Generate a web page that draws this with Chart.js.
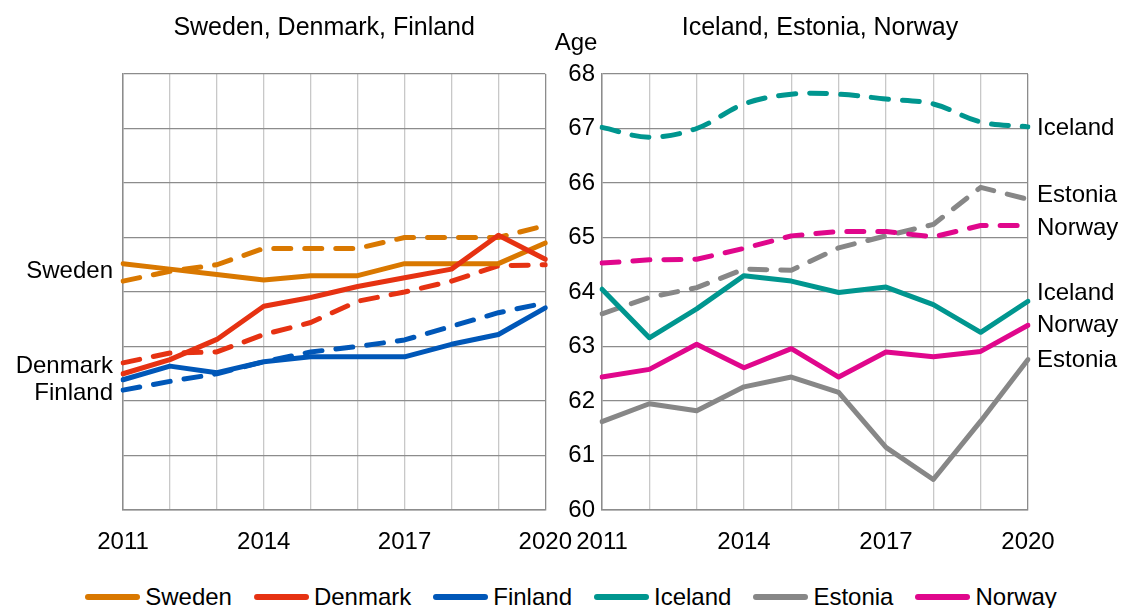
<!DOCTYPE html>
<html>
<head>
<meta charset="utf-8">
<script src="https://cdn.jsdelivr.net/npm/chart.js@4.4.1/dist/chart.umd.min.js"></script>
<style>
  body { margin: 0; background: #fff; }
  #wrap { position: relative; width: 1126px; height: 608px; overflow: hidden; background: #fff; }
  #leftChart { position: absolute; left: 0; top: 0; }
  #rightChart { position: absolute; left: 540px; top: 0; }
  #legend {
    position: absolute; left: 0; top: 585px; width: 1126px; height: 24px;
    display: flex; justify-content: center; gap: 22px; padding-left: 16px; box-sizing: border-box;
    font-family: 'Liberation Sans', Arial, sans-serif; font-size: 24px; line-height: 24px; color: #000;
  }
  .item { display: flex; align-items: center; gap: 5px; }
  .swatch { width: 55px; height: 6px; border-radius: 3px; }
</style>
</head>
<body>
<div id="wrap">
  <canvas id="leftChart" width="590" height="560"></canvas>
  <canvas id="rightChart" width="586" height="560"></canvas>
  <div id="legend"></div>
</div>
<script>
const years = ['2011', '2012', '2013', '2014', '2015', '2016', '2017', '2018', '2019', '2020'];
const shownYears = ['2011', '2014', '2017', '2020'];

const countries = ['Sweden', 'Denmark', 'Finland', 'Iceland', 'Estonia', 'Norway'];
const colors = ['#D97800', '#E63212', '#0057B8', '#00968F', '#878787', '#E0078C'];

// solid lines
const swedenSolid  = [64.52, 64.42, 64.32, 64.22, 64.30, 64.30, 64.52, 64.52, 64.52, 64.90];
const denmarkSolid = [62.50, 62.76, 63.13, 63.74, 63.90, 64.10, 64.26, 64.42, 65.04, 64.60];
const finlandSolid = [62.39, 62.64, 62.52, 62.72, 62.81, 62.81, 62.81, 63.04, 63.22, 63.71];
const icelandSolid = [64.05, 63.16, 63.69, 64.30, 64.20, 63.99, 64.09, 63.77, 63.26, 63.83];
const estoniaSolid = [61.62, 61.95, 61.82, 62.26, 62.44, 62.16, 61.15, 60.56, 61.63, 62.76];
const norwaySolid  = [62.44, 62.58, 63.04, 62.61, 62.96, 62.44, 62.90, 62.81, 62.91, 63.39];

// dashed lines
const swedenDashed  = [64.20, 64.38, 64.50, 64.80, 64.80, 64.80, 65.00, 65.00, 65.00, 65.22];
const denmarkDashed = [62.70, 62.88, 62.90, 63.22, 63.44, 63.83, 64.00, 64.20, 64.48, 64.50];
const finlandDashed = [62.20, 62.36, 62.50, 62.72, 62.90, 63.00, 63.12, 63.37, 63.62, 63.80];
const icelandDashed = [67.02, 66.84, 67.00, 67.45, 67.63, 67.63, 67.54, 67.45, 67.12, 67.03];
const estoniaDashed = [63.60, 63.90, 64.08, 64.42, 64.40, 64.81, 65.03, 65.24, 65.92, 65.70];
const norwayDashed  = [64.53, 64.59, 64.60, 64.80, 65.03, 65.11, 65.11, 65.01, 65.22, 65.22];

// end labels beside the panels
const leftNames = ['Sweden', 'Denmark', 'Finland'];
const leftNameValues = [64.37, 62.64, 62.14];
const rightNames = ['Iceland', 'Estonia', 'Norway', 'Iceland', 'Norway', 'Estonia'];
const rightNameValues = [67.01, 65.78, 65.16, 63.98, 63.38, 62.75];

const yMin = 60, yMax = 68;
const font = "'Liberation Sans', Arial, sans-serif";

function line(data, color, dashed, smooth) {
    return {
        data: data,
        borderColor: color,
        borderWidth: 5,
        borderDash: dashed ? [17, 14] : [],
        borderCapStyle: 'round',
        borderJoinStyle: 'round',
        pointRadius: 0,
        tension: smooth ? 0.35 : 0,
        fill: false
    };
}

const panelText = {
    id: 'panelText',
    afterDraw(chart, args, opts) {
        const { ctx, chartArea, scales } = chart;
        ctx.save();
        ctx.fillStyle = '#000';
        ctx.font = '25px ' + font;
        ctx.textAlign = 'center';
        ctx.textBaseline = 'alphabetic';
        ctx.fillText(opts.title, (chartArea.left + chartArea.right) / 2 + opts.titleShift, 35);
        ctx.font = '24px ' + font;
        ctx.textBaseline = 'middle';
        ctx.textAlign = opts.side === 'left' ? 'right' : 'left';
        const x = opts.side === 'left' ? chartArea.left - 10 : chartArea.right + 9;
        opts.names.forEach((n, i) => {
            ctx.fillText(n, x, scales.y.getPixelForValue(opts.values[i]));
        });
        if (opts.axisTitle) {
            ctx.textAlign = 'center';
            ctx.fillText(opts.axisTitle, chartArea.left - 26, chartArea.top - 31);
        }
        ctx.restore();
    }
};

function makeOptions(side, padding, yWidth, text) {
    return {
        responsive: false,
        animation: false,
        events: [],
        layout: { padding: padding },
        plugins: {
            legend: { display: false },
            tooltip: { enabled: false },
            panelText: text
        },
        scales: {
            x: {
                type: 'category',
                offset: false,
                grid: {
                    color: (c) => c.index === years.length - 1 ? '#8c8c8c' : '#c8c8c8',
                    lineWidth: 1.3,
                    drawTicks: false
                },
                border: { color: '#8c8c8c', width: 1.5 },
                ticks: {
                    autoSkip: false,
                    maxRotation: 0,
                    padding: 18,
                    color: '#000',
                    font: { family: font, size: 24 },
                    callback: (v, i) => shownYears.includes(years[i]) ? years[i] : ''
                },
                afterFit: (s) => { s.height = 50; }
            },
            y: {
                min: yMin,
                max: yMax,
                grid: { color: '#8c8c8c', lineWidth: 1.3, drawTicks: false },
                border: { color: '#8c8c8c', width: 1.5 },
                ticks: {
                    display: side === 'right',
                    stepSize: 1,
                    padding: 7,
                    color: '#000',
                    font: { family: font, size: 24 }
                },
                afterFit: (s) => { s.width = yWidth; }
            }
        }
    };
}

new Chart(document.getElementById('leftChart'), {
    type: 'line',
    data: {
        labels: years,
        datasets: [
            line(finlandSolid, colors[2], false),
            line(denmarkSolid, colors[1], false),
            line(swedenSolid, colors[0], false),
            line(finlandDashed, colors[2], true),
            line(denmarkDashed, colors[1], true),
            line(swedenDashed, colors[0], true)
        ]
    },
    options: makeOptions('left', { left: 123, top: 74, right: 39, bottom: 0 }, 0, {
        title: 'Sweden, Denmark, Finland', titleShift: -10, side: 'left',
        names: leftNames, values: leftNameValues
    }),
    plugins: [panelText]
});

new Chart(document.getElementById('rightChart'), {
    type: 'line',
    data: {
        labels: years,
        datasets: [
            line(norwaySolid, colors[5], false),
            line(icelandSolid, colors[3], false),
            line(estoniaSolid, colors[4], false),
            line(norwayDashed, colors[5], true),
            line(estoniaDashed, colors[4], true),
            line(icelandDashed, colors[3], true, true)
        ]
    },
    options: makeOptions('right', { left: 0, top: 74, right: 98, bottom: 0 }, 62, {
        title: 'Iceland, Estonia, Norway', titleShift: 5, side: 'right',
        names: rightNames, values: rightNameValues, axisTitle: 'Age'
    }),
    plugins: [panelText]
});

const legend = document.getElementById('legend');
countries.forEach((name, i) => {
    const item = document.createElement('div');
    item.className = 'item';
    const sw = document.createElement('span');
    sw.className = 'swatch';
    sw.style.background = colors[i];
    const label = document.createElement('span');
    label.textContent = name;
    item.appendChild(sw);
    item.appendChild(label);
    legend.appendChild(item);
});
</script>
</body>
</html>
